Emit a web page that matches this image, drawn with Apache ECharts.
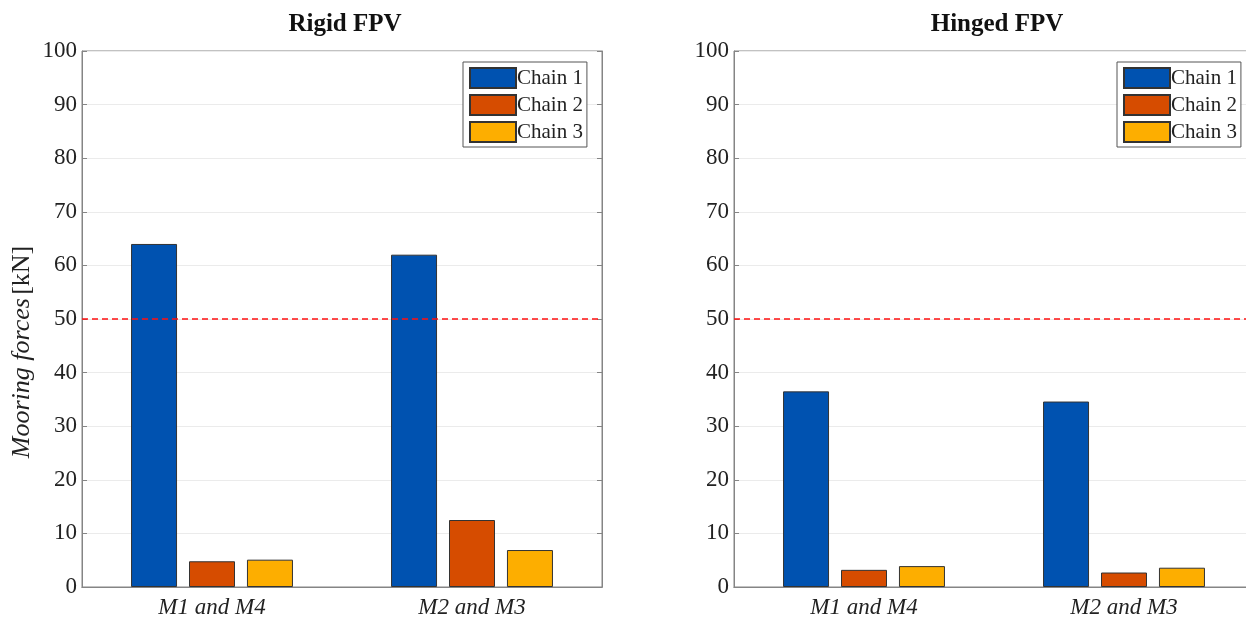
<!DOCTYPE html>
<html>
<head>
<meta charset="utf-8">
<title>Mooring forces</title>
<script src="https://cdn.jsdelivr.net/npm/echarts@6/dist/echarts.min.js"></script>
<style>
  html, body { margin: 0; padding: 0; background: #ffffff; overflow: hidden; width: 1246px; height: 619px; }
  /* canvas is a little wider than the page: the second panel runs off the right edge */
  #chart { width: 1260px; height: 619px; }
</style>
</head>
<body>
<div id="chart"></div>
<script>
// Mooring line groups along the x axis
const categories = ['M1 and M4', 'M2 and M3'];
const seriesNames = ['Chain 1', 'Chain 2', 'Chain 3'];

// Peak mooring forces [kN], rigid platform
const rigidChain1 = [64.0, 62.0];
const rigidChain2 = [4.8, 12.5];
const rigidChain3 = [5.1, 6.9];

// Peak mooring forces [kN], hinged platform
const hingedChain1 = [36.5, 34.6];
const hingedChain2 = [3.2, 2.7];
const hingedChain3 = [3.9, 3.6];

// Allowable force threshold [kN]
const threshold = 50;

// y tick range
const yMin = 0, yMax = 100, yStep = 10;

const colors = ['#0052b0', '#d64c00', '#fdae00'];
const serif = '"Liberation Serif", "DejaVu Serif", serif';
const axisGray = '#858585';

const plotTop = 51, plotH = 537, plotW = 520;
const leftX = [82, 734];

function grid(i) {
  return {
    left: leftX[i], top: plotTop, width: plotW, height: plotH,
    show: true, borderColor: axisGray, borderWidth: 1, backgroundColor: '#fff'
  };
}

function bottomAxis(g) {
  return {
    type: 'category', gridIndex: g, data: categories, position: 'bottom',
    axisLine: { lineStyle: { color: axisGray } },
    axisTick: { inside: true, alignWithLabel: true, length: 5, lineStyle: { color: axisGray } },
    axisLabel: { fontFamily: serif, fontStyle: 'italic', fontSize: 23, color: '#222', margin: 9 }
  };
}
function topAxis(g) {
  return {
    type: 'category', gridIndex: g, data: categories, position: 'top',
    axisLine: { lineStyle: { color: axisGray } },
    axisTick: { inside: true, alignWithLabel: true, length: 5, lineStyle: { color: axisGray } },
    axisLabel: { show: false }
  };
}
function leftAxis(g) {
  return {
    type: 'value', gridIndex: g, min: yMin, max: yMax, interval: yStep, position: 'left',
    axisLine: { show: true, lineStyle: { color: axisGray } },
    axisTick: { show: true, inside: true, length: 5, lineStyle: { color: axisGray } },
    axisLabel: { fontFamily: serif, fontSize: 23, color: '#222', margin: 5 },
    splitLine: { show: true, lineStyle: { color: '#ebebeb', width: 1 } }
  };
}
function rightAxis(g) {
  return {
    type: 'value', gridIndex: g, min: yMin, max: yMax, interval: yStep, position: 'right',
    axisLine: { show: true, lineStyle: { color: axisGray } },
    axisTick: { show: true, inside: true, length: 5, lineStyle: { color: axisGray } },
    axisLabel: { show: false },
    splitLine: { show: false }
  };
}

function bars(values, k, axisIdx, withLine) {
  const s = {
    name: seriesNames[k], type: 'bar', xAxisIndex: axisIdx, yAxisIndex: axisIdx,
    data: values, barWidth: 46, barGap: '26%',
    itemStyle: { color: colors[k], borderColor: '#333', borderWidth: 1 },
    emphasis: { disabled: true }
  };
  if (withLine) {
    s.markLine = {
      silent: true, symbol: 'none', label: { show: false },
      lineStyle: { color: '#ff1010', type: [6, 4], width: 1.5 },
      data: [{ yAxis: threshold }]
    };
  }
  return s;
}

function legend(left) {
  return {
    data: seriesNames, left: left, top: 62, orient: 'vertical',
    icon: 'rect', itemWidth: 46, itemHeight: 20, itemGap: 5,
    backgroundColor: '#fff', borderColor: '#555', borderWidth: 1,
    padding: [5, 4, 4, 6],
    textStyle: { fontFamily: serif, fontSize: 21, lineHeight: 20, color: '#222', padding: [0, 0, 0, -4] },
    selectedMode: false
  };
}

const option = {
  animation: false,
  backgroundColor: '#ffffff',
  title: [
    { text: 'Rigid FPV', left: leftX[0] + plotW / 2 - 2, textAlign: 'center', top: 7,
      textStyle: { fontFamily: serif, fontWeight: 'bold', fontSize: 25, color: '#111' } },
    { text: 'Hinged FPV', left: leftX[1] + plotW / 2 - 2, textAlign: 'center', top: 7,
      textStyle: { fontFamily: serif, fontWeight: 'bold', fontSize: 25, color: '#111' } }
  ],
  legend: [legend(463), legend(1117)],
  grid: [grid(0), grid(1)],
  xAxis: [bottomAxis(0), topAxis(0), bottomAxis(1), topAxis(1)],
  yAxis: [leftAxis(0), rightAxis(0), leftAxis(1), rightAxis(1)],
  // y axis title, italic quantity with upright unit
  graphic: [{
    type: 'text', x: 22, y: 352, rotation: Math.PI / 2, silent: true,
    style: {
      text: '{i|Mooring forces} {n|[kN]}',
      align: 'center', verticalAlign: 'middle',
      rich: {
        i: { fontFamily: serif, fontStyle: 'italic', fontSize: 26, fill: '#222' },
        n: { fontFamily: serif, fontSize: 26, fill: '#222' }
      }
    }
  }],
  series: [
    bars(rigidChain1, 0, 0, true),
    bars(rigidChain2, 1, 0, false),
    bars(rigidChain3, 2, 0, false),
    bars(hingedChain1, 0, 2, true),
    bars(hingedChain2, 1, 2, false),
    bars(hingedChain3, 2, 2, false)
  ]
};

const chart = echarts.init(document.getElementById('chart'), null, { renderer: 'canvas' });
chart.setOption(option);
</script>
</body>
</html>
